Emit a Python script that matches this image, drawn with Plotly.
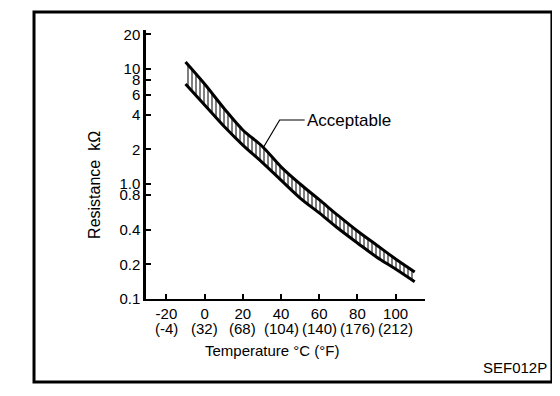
import plotly.graph_objects as go
import math

# Data
temps_c = [-10, 0, 10, 20, 30, 40, 50, 60, 70, 80, 90, 100, 110]
upper_kohm = [11.5, 7.4, 4.58, 2.95, 2.14, 1.41, 1.0, 0.73, 0.53, 0.39, 0.295, 0.223, 0.172]
lower_kohm = [7.4, 4.86, 3.19, 2.18, 1.55, 1.08, 0.755, 0.56, 0.41, 0.307, 0.232, 0.182, 0.141]

x_tick_vals = [-20, 0, 20, 40, 60, 80, 100]
x_tick_f = ["-4", "32", "68", "104", "140", "176", "212"]
y_tick_vals = [0.1, 0.2, 0.4, 0.8, 1.0, 2, 4, 6, 8, 10, 20]
y_tick_text = ["0.1", "0.2", "0.4", "0.8", "1.0", "2", "4", "6", "8", "10", "20"]

leader_t = [52.4, 39.3, 30.9]
leader_r = [3.6, 3.6, 2.1]

FONT = "Liberation Sans, Arial, Helvetica, sans-serif"

fig = go.Figure()
fig.add_trace(go.Scatter(x=temps_c, y=upper_kohm, mode="lines",
                         line=dict(color="black", width=3, shape="spline"),
                         showlegend=False, hoverinfo="skip"))
fig.add_trace(go.Scatter(x=temps_c, y=lower_kohm, mode="lines",
                         line=dict(color="black", width=3, shape="spline"),
                         fill="tonexty", fillcolor="white",
                         fillpattern=dict(shape="|", size=4, solidity=0.5,
                                          fgcolor="black", bgcolor="white"),
                         showlegend=False, hoverinfo="skip"))
fig.add_trace(go.Scatter(x=leader_t, y=leader_r, mode="lines",
                         line=dict(color="black", width=1.2),
                         showlegend=False, hoverinfo="skip"))

fig.add_annotation(x=leader_t[0] + 0.3, y=math.log10(leader_r[0]), xref="x", yref="y",
                   text="Acceptable", showarrow=False, xanchor="left", yanchor="middle",
                   font=dict(family=FONT, size=17, color="black"))

fig.update_xaxes(range=[-30.7, 115.4], tickvals=x_tick_vals,
                 ticktext=[str(c) for c in x_tick_vals],
                 ticks="inside", ticklen=5, tickwidth=1.5, tickcolor="black",
                 showline=True, linecolor="black", linewidth=1.5,
                 showgrid=False, zeroline=False,
                 tickfont=dict(family=FONT, size=15, color="black"))
fig.update_yaxes(type="log", range=[-1, 1.339], tickvals=y_tick_vals, ticktext=y_tick_text,
                 ticks="inside", ticklen=5, tickwidth=1.5, tickcolor="black",
                 showline=True, linecolor="black", linewidth=2.5,
                 showgrid=False, zeroline=False,
                 tickfont=dict(family=FONT, size=15, color="black"))

# Fahrenheit row of tick labels
for c, f in zip(x_tick_vals, x_tick_f):
    fig.add_annotation(x=c, y=-0.109, xref="x", yref="paper", text=f"({f})",
                       showarrow=False, xanchor="center", yanchor="middle",
                       font=dict(family=FONT, size=15, color="black"))

# Axis titles
fig.add_annotation(x=0.455, y=-0.193, xref="paper", yref="paper",
                   text="Temperature °C (°F)", showarrow=False,
                   xanchor="center", yanchor="middle",
                   font=dict(family=FONT, size=15, color="black"))
fig.add_annotation(x=-0.183, y=0.424, xref="paper", yref="paper",
                   text="Resistance  kΩ", textangle=-90, showarrow=False,
                   xanchor="center", yanchor="middle",
                   font=dict(family=FONT, size=16, color="black"))
fig.add_annotation(x=1.444, y=-0.2565, xref="paper", yref="paper",
                   text="SEF012P", showarrow=False, xanchor="right", yanchor="middle",
                   font=dict(family=FONT, size=15, color="black"))

# Outer frame
fig.add_shape(type="rect", xref="paper", yref="paper",
              x0=-0.4014, x1=1.455, y0=-0.3086, y1=1.067,
              line=dict(color="black", width=3))

fig.update_layout(width=560, height=396,
                  margin=dict(l=138, r=143, t=22, b=105),
                  paper_bgcolor="white", plot_bgcolor="white",
                  showlegend=False)

fig.write_html("out.html")
